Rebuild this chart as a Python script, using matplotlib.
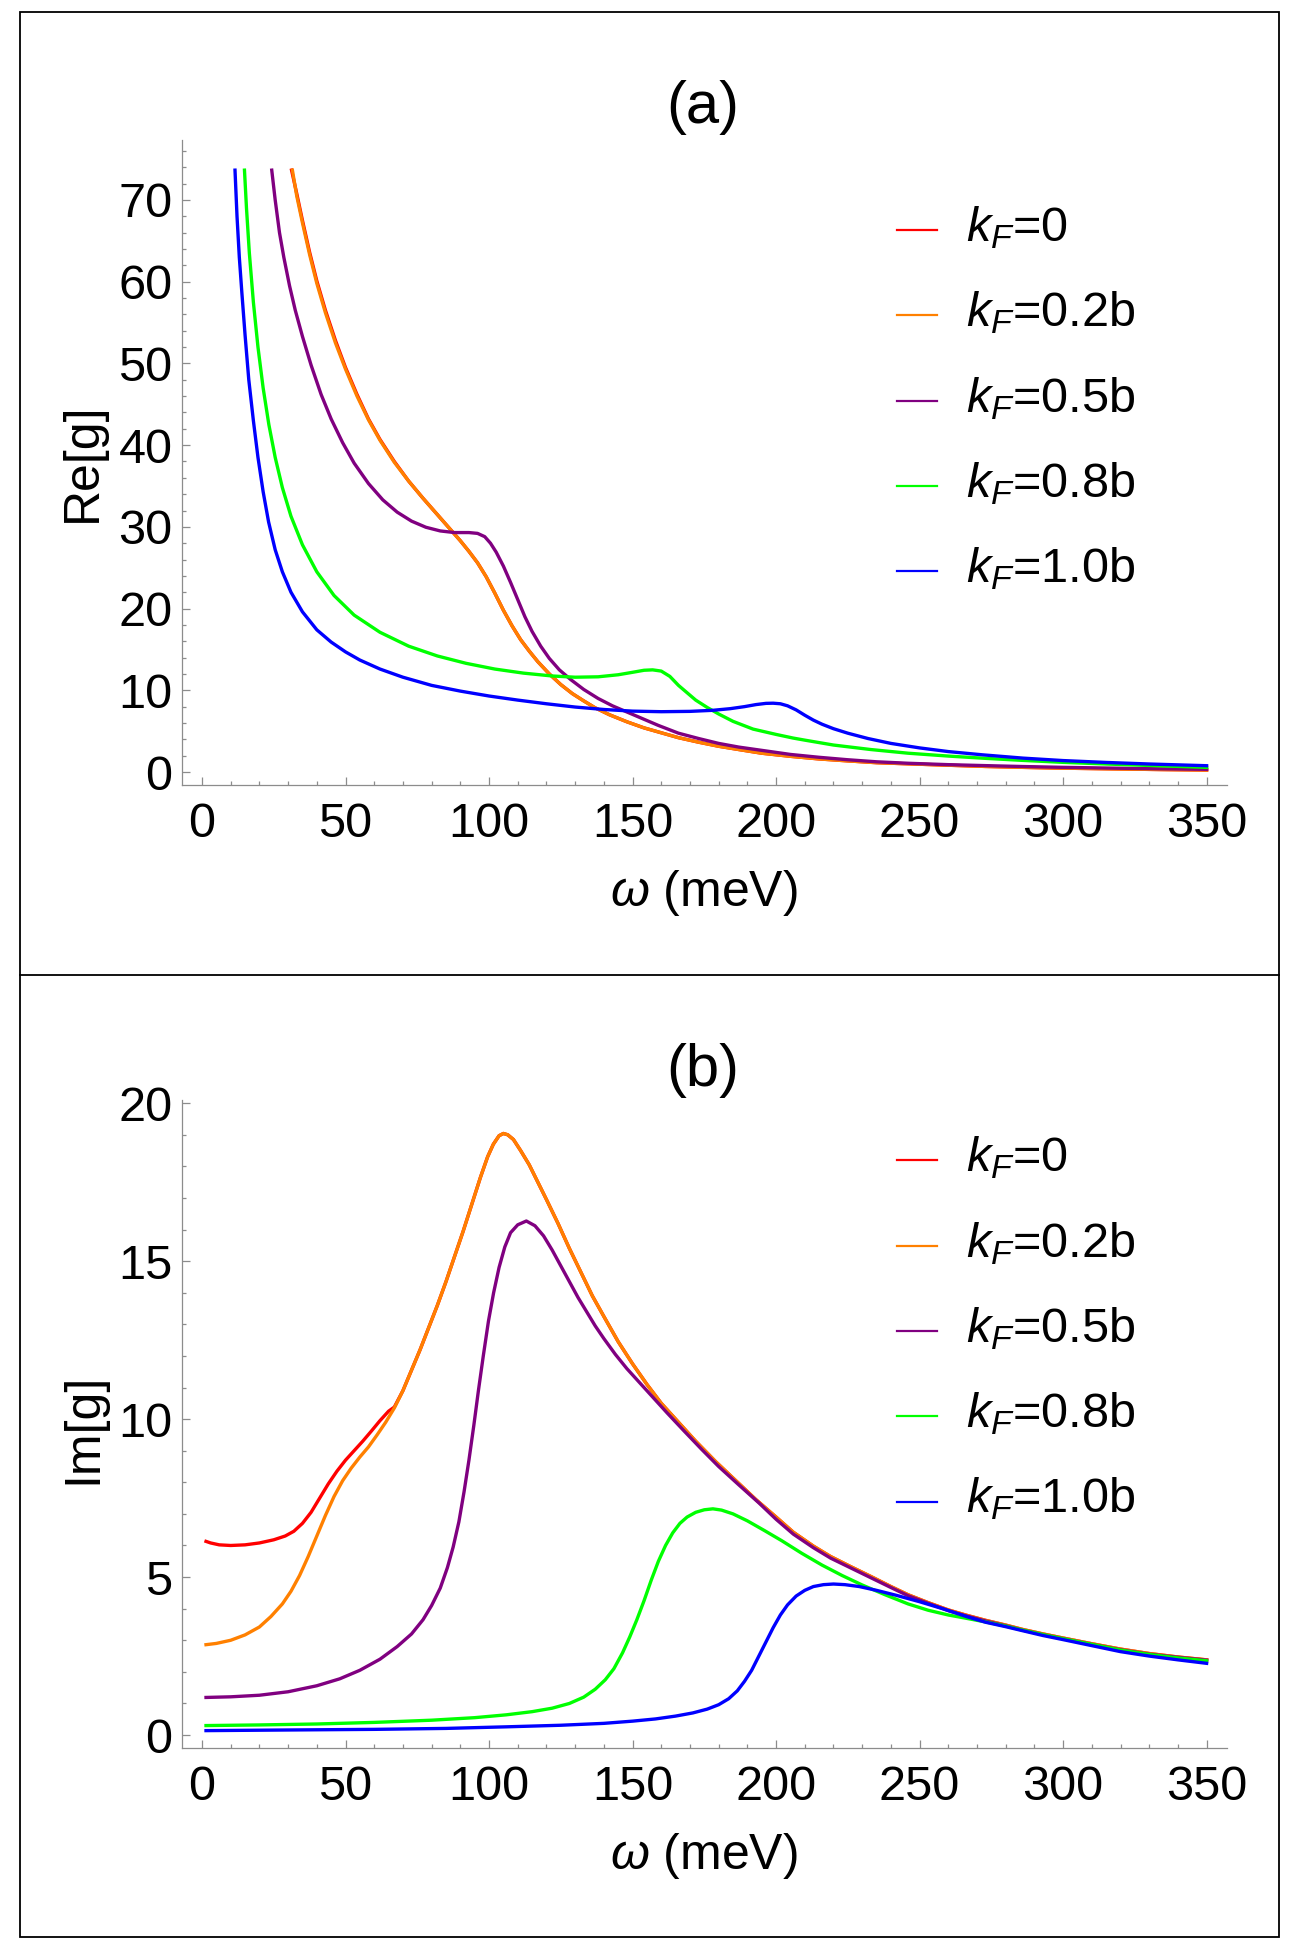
import matplotlib
matplotlib.use("Agg")
import matplotlib.pyplot as plt
from matplotlib.ticker import MultipleLocator
from matplotlib.lines import Line2D
from matplotlib.patches import Rectangle

plt.rcParams['font.family'] = ['Liberation Sans', 'DejaVu Sans']
plt.rcParams['mathtext.fontset'] = 'custom'
plt.rcParams['mathtext.rm'] = 'Liberation Sans'
plt.rcParams['mathtext.it'] = 'Liberation Sans:italic'

# ---- data ----
labels = ['$k_F$=0', '$k_F$=0.2b', '$k_F$=0.5b', '$k_F$=0.8b', '$k_F$=1.0b']
colors = ['#ff0000', '#ff8000', '#800080', '#00ff00', '#0000ff']

# (a) Re[g]
re_x_00 = [31.2, 33, 35, 37.5, 40, 43, 46.5, 50, 54, 58, 62, 67, 72, 77, 82, 86, 90, 93, 96, 99, 102,
           105, 108, 111, 114, 117, 121, 125, 129, 133, 137, 142, 148, 154, 160, 166, 173, 180, 187,
           195, 205, 215, 225, 235, 246, 260, 273, 286, 300, 318, 334, 350]
re_y_00 = [73.65, 70.8, 67.5, 63.6, 60.1, 56.5, 52.8, 49.5, 46.2, 43.2, 40.7, 38.0, 35.6, 33.5, 31.5,
           29.9, 28.3, 27.0, 25.6, 23.9, 21.9, 19.8, 17.9, 16.2, 14.8, 13.5, 12.0, 10.7, 9.6, 8.7,
           7.85, 7.0, 6.15, 5.4, 4.8, 4.2, 3.65, 3.15, 2.75, 2.3, 1.92, 1.6, 1.36, 1.14, 1.0, 0.83,
           0.68, 0.57, 0.47, 0.38, 0.3, 0.24]
re_x_02 = [31.5, 33, 35, 37.5, 40, 43, 46.5, 50, 54, 58, 62, 67, 72, 77, 82, 86, 90, 93, 96, 99, 102,
           105, 108, 111, 114, 117, 121, 125, 129, 133, 137, 142, 148, 154, 160, 166, 173, 180, 187,
           195, 205, 215, 225, 235, 246, 260, 273, 286, 300, 318, 334, 350]
re_y_02 = [73.65, 70.5, 67.2, 63.3, 59.8, 56.2, 52.5, 49.3, 46.0, 43.1, 40.6, 37.9, 35.6, 33.5, 31.5,
           29.9, 28.3, 27.0, 25.6, 23.9, 21.9, 19.8, 17.9, 16.2, 14.8, 13.5, 12.0, 10.7, 9.6, 8.7,
           7.85, 7.0, 6.15, 5.4, 4.8, 4.2, 3.65, 3.15, 2.75, 2.3, 1.92, 1.6, 1.36, 1.14, 1.0, 0.83,
           0.68, 0.57, 0.47, 0.38, 0.3, 0.24]
re_x_05 = [24.3, 25.5, 27, 28.5, 30.5, 32.5, 35, 38, 41.5, 45, 49, 53, 58, 63, 68, 73, 78, 83, 88, 93,
           96, 98.5, 100.5, 102.5, 105, 107.5, 110, 112.5, 115, 118, 121, 124.5, 128.5, 133, 138,
           143, 148, 153, 159, 166, 173, 180, 187, 195, 205, 215, 225, 235, 246, 260, 273, 286, 300,
           318, 334, 350]
re_y_05 = [73.65, 70.0, 66.0, 63.0, 59.5, 56.5, 53.3, 49.8, 46.2, 43.2, 40.3, 37.8, 35.3, 33.3, 31.8,
           30.7, 29.95, 29.5, 29.3, 29.3, 29.2, 28.8, 28.0, 26.9, 25.2, 23.2, 21.1, 19.0, 17.2, 15.4,
           13.9, 12.5, 11.3, 10.1, 9.0, 8.1, 7.35, 6.6, 5.7, 4.75, 4.1, 3.5, 3.05, 2.65, 2.15, 1.8,
           1.5, 1.25, 1.07, 0.9, 0.78, 0.67, 0.57, 0.47, 0.39, 0.33]
re_x_08 = [14.8, 15.5, 16.5, 17.9, 19.5, 21.3, 23.3, 25.5, 28, 31, 35, 40, 46, 53, 62, 72, 82, 92, 102,
           112, 122, 130, 138, 145, 150, 154, 157, 160, 163, 166, 169, 172, 176, 180, 185, 192, 200,
           206, 210, 220, 233, 246, 260, 273, 286, 300, 315, 330, 350]
re_y_08 = [73.65, 69.0, 63.5, 57.5, 52.0, 47.0, 42.5, 38.5, 34.8, 31.3, 27.8, 24.5, 21.6, 19.2, 17.1,
           15.4, 14.2, 13.3, 12.6, 12.1, 11.75, 11.6, 11.65, 11.9, 12.2, 12.45, 12.5, 12.35, 11.7,
           10.6, 9.7, 8.8, 7.9, 7.1, 6.2, 5.25, 4.6, 4.15, 3.9, 3.3, 2.75, 2.3, 1.95, 1.67, 1.42,
           1.18, 0.98, 0.8, 0.57]
re_x_10 = [11.5, 12.2, 13, 13.9, 15, 16.3, 17.9, 19.5, 21.3, 23.2, 25.5, 28, 31, 35, 40, 45, 50, 55,
           62, 70, 80, 90, 100, 110, 120, 130, 140, 150, 160, 170, 178, 184, 189, 193, 196.5, 199,
           201.5, 204, 207, 210, 213, 216, 220, 225, 232, 240, 250, 260, 272, 286, 300, 315, 330, 350]
re_y_10 = [73.65, 68.0, 63.0, 58.6, 53.5, 48.0, 43.0, 38.5, 34.3, 30.6, 27.2, 24.5, 22.0, 19.6, 17.4,
           15.9, 14.7, 13.7, 12.6, 11.6, 10.6, 9.9, 9.3, 8.8, 8.35, 7.95, 7.65, 7.45, 7.38, 7.42,
           7.55, 7.75, 8.0, 8.25, 8.4, 8.42, 8.35, 8.1, 7.6, 6.95, 6.35, 5.85, 5.3, 4.75, 4.1, 3.5,
           2.95, 2.5, 2.1, 1.7, 1.4, 1.17, 0.98, 0.77]

# (b) Im[g]
im_x_00 = [1.4, 3, 6, 10, 15, 20, 25, 29, 32, 35, 38, 41, 44, 47, 50, 53, 56, 59, 62, 65, 67, 70, 73,
           76, 79, 82, 85, 88, 91, 94, 97, 99.5, 101.5, 103.5, 105, 106.5, 108.5, 111, 114, 117, 120,
           124, 128, 132, 136, 140, 145, 150, 155, 160, 166, 172, 179, 186, 193, 200, 206, 213, 219,
           226, 233, 240, 246, 253, 260, 266, 273, 280, 286, 293, 300, 310, 320, 330, 340, 350]
im_y_00 = [6.13, 6.08, 6.02, 6.0, 6.02, 6.08, 6.18, 6.3, 6.45, 6.7, 7.05, 7.5, 7.95, 8.35, 8.7, 9.0,
           9.3, 9.62, 9.95, 10.25, 10.38, 10.9, 11.55, 12.2, 12.9, 13.6, 14.35, 15.15, 15.95, 16.8,
           17.65, 18.3, 18.7, 18.97, 19.04, 19.0, 18.85, 18.5, 18.05, 17.5, 16.95, 16.2, 15.4, 14.65,
           13.9, 13.25, 12.45, 11.75, 11.1, 10.5, 9.9, 9.3, 8.65, 8.05, 7.45, 6.9, 6.42, 5.98, 5.65,
           5.33, 5.02, 4.7, 4.44, 4.19, 3.96, 3.8, 3.63, 3.48, 3.34, 3.2, 3.07, 2.89, 2.72, 2.58,
           2.47, 2.38]
im_x_02 = [1.4, 5, 10, 15, 20, 24, 28, 31, 34, 37, 40, 43, 46, 49, 52, 55, 58, 61, 64, 67, 70, 73,
           76, 79, 82, 85, 88, 91, 94, 97, 99.5, 101.5, 103.5, 105, 106.5, 108.5, 111, 114, 117, 120,
           124, 128, 132, 136, 140, 145, 150, 155, 160, 166, 172, 179, 186, 193, 200, 206, 213, 219,
           226, 233, 240, 246, 253, 260, 266, 273, 280, 286, 293, 300, 310, 320, 330, 340, 350]
im_y_02 = [2.86, 2.9, 3.0, 3.17, 3.42, 3.75, 4.15, 4.55, 5.05, 5.65, 6.3, 6.95, 7.55, 8.05, 8.45,
           8.8, 9.12, 9.5, 9.9, 10.35, 10.9, 11.55, 12.2, 12.9, 13.6, 14.35, 15.15, 15.95, 16.8,
           17.65, 18.3, 18.7, 18.97, 19.04, 19.0, 18.85, 18.5, 18.05, 17.5, 16.95, 16.2, 15.4, 14.65,
           13.9, 13.25, 12.45, 11.75, 11.1, 10.5, 9.9, 9.3, 8.65, 8.05, 7.45, 6.9, 6.42, 5.98, 5.65,
           5.33, 5.02, 4.7, 4.44, 4.19, 3.96, 3.8, 3.63, 3.48, 3.34, 3.2, 3.07, 2.89, 2.72, 2.58,
           2.47, 2.38]
im_x_05 = [1.4, 10, 20, 30, 40, 48, 55, 62, 68, 73, 77, 80, 83, 85.5, 87.5, 89.5, 91.3, 93, 94.7,
           96.3, 98, 99.8, 101.6, 103.5, 105.5, 107.5, 110, 113, 116, 119, 122, 125, 128, 131, 134,
           137, 140, 144, 148, 152, 157, 162, 168, 174, 180, 187, 194, 200, 206, 213, 219, 226, 233,
           240, 246, 253, 260, 266, 273, 280, 286, 293, 300, 310, 320, 330, 340, 350]
im_y_05 = [1.19, 1.21, 1.26, 1.37, 1.56, 1.78, 2.05, 2.4, 2.8, 3.2, 3.65, 4.1, 4.65, 5.3, 5.95, 6.75,
           7.7, 8.7, 9.8, 10.9, 12.0, 13.1, 14.0, 14.8, 15.45, 15.9, 16.15, 16.27, 16.12, 15.8, 15.35,
           14.85, 14.35, 13.85, 13.4, 12.95, 12.55, 12.05, 11.6, 11.2, 10.7, 10.2, 9.62, 9.05, 8.5,
           7.92, 7.35, 6.83, 6.36, 5.93, 5.6, 5.29, 4.98, 4.67, 4.41, 4.17, 3.94, 3.78, 3.61, 3.46,
           3.32, 3.18, 3.05, 2.87, 2.7, 2.56, 2.46, 2.37]
im_x_08 = [1.4, 20, 40, 60, 80, 95, 106, 115, 122, 128, 133, 137, 140.5, 143.5, 146.5, 149, 151.5,
           154, 156.5, 159, 161.5, 164, 166.5, 169, 172, 175, 178, 181, 185, 190, 196, 202, 209, 216,
           223, 230, 238, 246, 253, 260, 266, 273, 280, 286, 293, 300, 310, 320, 330, 340, 350]
im_y_08 = [0.3, 0.32, 0.35, 0.4, 0.47, 0.55, 0.64, 0.74, 0.85, 1.0, 1.2, 1.45, 1.75, 2.1, 2.6, 3.1,
           3.65, 4.25, 4.9, 5.5, 6.0, 6.4, 6.7, 6.9, 7.05, 7.13, 7.16, 7.12, 7.0, 6.78, 6.47, 6.15,
           5.75, 5.38, 5.05, 4.75, 4.44, 4.15, 3.95, 3.8, 3.7, 3.58, 3.45, 3.32, 3.18, 3.05, 2.87,
           2.69, 2.55, 2.44, 2.35]
im_x_10 = [1.4, 30, 60, 85, 106, 125, 140, 150, 158, 165, 171, 176, 180, 183.5, 186.5, 189, 191.5,
           194, 196.5, 199, 201.5, 204, 207, 210, 213, 216.5, 220, 224, 229, 235, 242, 250, 258, 266,
           273, 280, 286, 293, 300, 310, 320, 330, 340, 350]
im_y_10 = [0.14, 0.16, 0.18, 0.21, 0.26, 0.31, 0.37, 0.44, 0.51, 0.6, 0.7, 0.82, 0.96, 1.15, 1.4,
           1.7, 2.05, 2.5, 2.95, 3.4, 3.8, 4.12, 4.4, 4.58, 4.7, 4.76, 4.78, 4.76, 4.7, 4.58, 4.42,
           4.22, 4.0, 3.76, 3.57, 3.43, 3.3, 3.15, 3.02, 2.83, 2.64, 2.5, 2.38, 2.27]

W, H = 1303, 1953
fig = plt.figure(figsize=(W / 100, H / 100), dpi=100)


def fx(x):
    return x / W


def fy(y):
    return 1 - y / H


def make_axes(top, bottom):
    ax = fig.add_axes([fx(181.5), fy(bottom), (1227 - 181.5) / W, (bottom - top) / H])
    for s in ['top', 'right']:
        ax.spines[s].set_visible(False)
    for s in ['left', 'bottom']:
        ax.spines[s].set_color('#8c8c8c')
        ax.spines[s].set_linewidth(0.9)
    ax.tick_params(which='both', direction='in', colors='#8c8c8c', labelcolor='black',
                   labelsize=35, width=0.9)
    ax.tick_params(which='major', length=5.8)
    ax.tick_params(which='minor', length=2.8)
    ax.tick_params(axis='x', pad=12)
    ax.tick_params(axis='y', pad=6.5)
    ax.set_xlim(-7.14, 357.1)
    ax.xaxis.set_major_locator(MultipleLocator(50))
    ax.xaxis.set_minor_locator(MultipleLocator(10))
    return ax


# ---- panel (a) ----
ax_a = make_axes(139.5, 785)
for xs, ys, c in zip([re_x_00, re_x_02, re_x_05, re_x_08, re_x_10],
                     [re_y_00, re_y_02, re_y_05, re_y_08, re_y_10], colors):
    ax_a.plot(xs, ys, color=c, lw=2.4)
ax_a.set_ylim(-1.59, 77.4)
ax_a.yaxis.set_major_locator(MultipleLocator(10))
ax_a.yaxis.set_minor_locator(MultipleLocator(2))

# ---- panel (b) ----
ax_b = make_axes(1100, 1748)
for xs, ys, c in zip([im_x_00, im_x_02, im_x_05, im_x_08, im_x_10],
                     [im_y_00, im_y_02, im_y_05, im_y_08, im_y_10], colors):
    ax_b.plot(xs, ys, color=c, lw=2.4)
ax_b.set_ylim(-0.41, 20.1)
ax_b.yaxis.set_major_locator(MultipleLocator(5))
ax_b.yaxis.set_minor_locator(MultipleLocator(1))

# titles, axis labels, legends placed in pixel positions
for dy, title, ylab, ylab_y, leg_y in [
        (0, '(a)', 'Re[g]', 462, [230, 315.3, 400.7, 486, 571.3]),
        (963, '(b)', 'Im[g]', 1428, [1160.3, 1245.7, 1331, 1416.3, 1501.7])]:
    fig.text(fx(703), fy(123 + dy), title, ha='center', va='baseline', fontsize=43)
    fig.text(fx(704), fy(906 + dy), r'$\omega$ (meV)', ha='center', va='baseline', fontsize=36)
    fig.text(fx(83), fy(ylab_y), ylab, ha='center', va='center', rotation=90, fontsize=36)
    for ly, lab, c in zip(leg_y, labels, colors):
        fig.add_artist(Line2D([fx(897), fx(937)], [fy(ly), fy(ly)], color=c, lw=1.6))
        fig.text(fx(966), fy(ly + 11), lab, ha='left', va='baseline', fontsize=35)

# frames around the two panels
fig.add_artist(Rectangle((fx(20), fy(1937)), (1279 - 20) / W, (1937 - 12) / H, fill=False,
                         edgecolor='black', lw=1.3, transform=fig.transFigure))
fig.add_artist(Line2D([fx(20), fx(1279)], [fy(975), fy(975)], color='black', lw=1.3))

fig.savefig('out.png', dpi=100, facecolor='white')
